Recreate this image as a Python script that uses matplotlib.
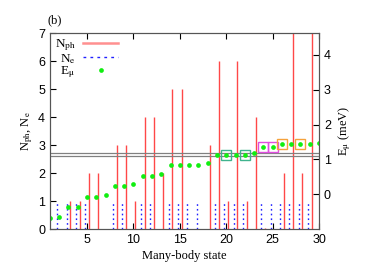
import matplotlib
matplotlib.use('Agg')
import matplotlib.pyplot as plt
from matplotlib.lines import Line2D
import numpy as np

# many-body states 1..30
states = np.arange(1, 31)
n_ph = [0, 0, 1, 1, 2, 2, 0, 3, 3, 1,
        4, 4, 2, 5, 5, 0, 0, 3, 6, 1,
        6, 1, 4, 0.05, 0, 2, 8, 2, 8, 0]
n_e = [0, 1, 1, 1, 1, 0, 0, 1, 1, 0,
       1, 1, 0, 1, 1, 1, 1, 0, 1, 1,
       1, 1, 0, 1, 1, 1, 1, 1, 1, 0]
e_mu = [-0.68, -0.66, -0.38, -0.38, -0.08, -0.08, -0.01, 0.23, 0.23, 0.30,
        0.52, 0.52, 0.59, 0.83, 0.83, 0.84, 0.84, 0.89, 1.13, 1.13,
        1.13, 1.13, 1.19, 1.36, 1.37, 1.43, 1.43, 1.43, 1.43, 1.48]
ref_levels = [1.09, 1.19]
boxes = {'#3fb38e': [20, 22], '#e04ee0': [24, 25], '#f5a23c': [26, 28]}

serif = ['Liberation Serif', 'DejaVu Serif']
plt.rcParams['font.family'] = ['Liberation Sans', 'DejaVu Sans']
plt.rcParams['mathtext.fontset'] = 'stix'

fig = plt.figure(figsize=(3.9, 2.73), dpi=100)
ax = fig.add_axes([0.128, 0.161, 0.69, 0.718])
ax2 = ax.twinx()

x = np.array(states)
ax.vlines(x + 0.2, 0, n_ph, color='#ff4848', lw=1.0)
ax.vlines(x - 0.2, 0, n_e, color='#2020ff', lw=1.0, linestyles=[(0, (1.2, 2.2))])

for lev in ref_levels:
    ax2.axhline(lev, color='#808080', lw=0.9)
ax2.plot(x, e_mu, 'o', color='#11ee11', ms=3.4, mec='none')
e_arr = np.array(e_mu)
for col, ss in boxes.items():
    idx = np.array(ss) - 1
    ax2.plot(x[idx], e_arr[idx], 's', mfc='none', mec=col, ms=7.5, mew=1.0)

ax.set_xlim(1, 30)
ax.set_ylim(0, 7)
ax2.set_ylim(-1.0, 4.63)
ax.set_xticks([5, 10, 15, 20, 25, 30])
ax.set_yticks(range(8))
ax2.set_yticks([0, 1, 2, 3, 4])
ax.tick_params(direction='in', top=True, labelsize=9, length=4, width=0.8)
ax2.tick_params(direction='in', labelsize=9, length=4, width=0.8)
for a in (ax, ax2):
    for s in a.spines.values():
        s.set_color('#555555')

ax.set_xlabel('Many-body state', family=serif, fontsize=9, labelpad=3)
ax.set_ylabel(r'N$_{\rm ph}$, N$_{\rm e}$', family=serif, fontsize=9, labelpad=2)
ax2.set_ylabel(r'E$_{\rm \mu}$ (meV)', family=serif, fontsize=9, labelpad=4)
ax.text(-0.01, 1.05, '(b)', transform=ax.transAxes, family=serif, fontsize=9)

h1 = Line2D([], [], color='#ff9090', lw=1.8)
h2 = Line2D([], [], color='#2020ff', lw=1.0, ls=(0, (2, 3)))
h3 = Line2D([], [], color='#11ee11', marker='o', ls='none', ms=3.4, mec='none')
ax.legend([h1, h2, h3], [r'N$_{\rm ph}$', r'N$_{\rm e}$', r'E$_{\rm \mu}$'],
          loc='upper left', markerfirst=False, frameon=False,
          prop={'family': serif, 'size': 9.5}, handlelength=2.6,
          labelspacing=-0.1, borderaxespad=0.1, handletextpad=0.6,
          borderpad=0.25)

fig.savefig('out.png', dpi=100)
